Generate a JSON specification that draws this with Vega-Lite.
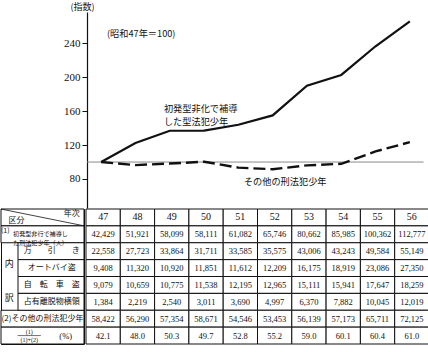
{
  "$schema": "https://vega.github.io/schema/vega-lite/v6.json",
  "padding": {"top": 2, "left": 0, "right": 0, "bottom": 0},
  "background": "white",
  "config": {"view": {"stroke": null}, "font": "Liberation Serif", "axis": {"labelOverlap": false, "labelBound": false, "labelSeparation": -20}, "axisY": {"labelOverlap": false}, "axisQuantitative": {"labelOverlap": false}},
  "datasets": {
    "series": [
      {"year": 47, "s": "初発型非行で補導した刑法犯少年", "v": 100},
      {"year": 48, "s": "初発型非行で補導した刑法犯少年", "v": 122.4},
      {"year": 49, "s": "初発型非行で補導した刑法犯少年", "v": 136.9},
      {"year": 50, "s": "初発型非行で補導した刑法犯少年", "v": 137.0},
      {"year": 51, "s": "初発型非行で補導した刑法犯少年", "v": 144.0},
      {"year": 52, "s": "初発型非行で補導した刑法犯少年", "v": 155.0},
      {"year": 53, "s": "初発型非行で補導した刑法犯少年", "v": 190.1},
      {"year": 54, "s": "初発型非行で補導した刑法犯少年", "v": 202.7},
      {"year": 55, "s": "初発型非行で補導した刑法犯少年", "v": 236.5},
      {"year": 56, "s": "初発型非行で補導した刑法犯少年", "v": 265.8},
      {"year": 47, "s": "その他の刑法犯少年", "v": 100},
      {"year": 48, "s": "その他の刑法犯少年", "v": 96.4},
      {"year": 49, "s": "その他の刑法犯少年", "v": 98.2},
      {"year": 50, "s": "その他の刑法犯少年", "v": 100.4},
      {"year": 51, "s": "その他の刑法犯少年", "v": 93.4},
      {"year": 52, "s": "その他の刑法犯少年", "v": 91.5},
      {"year": 53, "s": "その他の刑法犯少年", "v": 96.1},
      {"year": 54, "s": "その他の刑法犯少年", "v": 97.9},
      {"year": 55, "s": "その他の刑法犯少年", "v": 112.5},
      {"year": 56, "s": "その他の刑法犯少年", "v": 123.5}
    ],
    "table": [
      {"row": "r0", "year": "47", "v": "47"}, {"row": "r0", "year": "48", "v": "48"}, {"row": "r0", "year": "49", "v": "49"}, {"row": "r0", "year": "50", "v": "50"}, {"row": "r0", "year": "51", "v": "51"},
      {"row": "r0", "year": "52", "v": "52"}, {"row": "r0", "year": "53", "v": "53"}, {"row": "r0", "year": "54", "v": "54"}, {"row": "r0", "year": "55", "v": "55"}, {"row": "r0", "year": "56", "v": "56"},
      {"row": "r1", "year": "47", "v": "42,429"}, {"row": "r1", "year": "48", "v": "51,921"}, {"row": "r1", "year": "49", "v": "58,099"}, {"row": "r1", "year": "50", "v": "58,111"}, {"row": "r1", "year": "51", "v": "61,082"},
      {"row": "r1", "year": "52", "v": "65,746"}, {"row": "r1", "year": "53", "v": "80,662"}, {"row": "r1", "year": "54", "v": "85,985"}, {"row": "r1", "year": "55", "v": "100,362"}, {"row": "r1", "year": "56", "v": "112,777"},
      {"row": "r2", "year": "47", "v": "22,558"}, {"row": "r2", "year": "48", "v": "27,723"}, {"row": "r2", "year": "49", "v": "33,864"}, {"row": "r2", "year": "50", "v": "31,711"}, {"row": "r2", "year": "51", "v": "33,585"},
      {"row": "r2", "year": "52", "v": "35,575"}, {"row": "r2", "year": "53", "v": "43,006"}, {"row": "r2", "year": "54", "v": "43,243"}, {"row": "r2", "year": "55", "v": "49,584"}, {"row": "r2", "year": "56", "v": "55,149"},
      {"row": "r3", "year": "47", "v": "9,408"}, {"row": "r3", "year": "48", "v": "11,320"}, {"row": "r3", "year": "49", "v": "10,920"}, {"row": "r3", "year": "50", "v": "11,851"}, {"row": "r3", "year": "51", "v": "11,612"},
      {"row": "r3", "year": "52", "v": "12,209"}, {"row": "r3", "year": "53", "v": "16,175"}, {"row": "r3", "year": "54", "v": "18,919"}, {"row": "r3", "year": "55", "v": "23,086"}, {"row": "r3", "year": "56", "v": "27,350"},
      {"row": "r4", "year": "47", "v": "9,079"}, {"row": "r4", "year": "48", "v": "10,659"}, {"row": "r4", "year": "49", "v": "10,775"}, {"row": "r4", "year": "50", "v": "11,538"}, {"row": "r4", "year": "51", "v": "12,195"},
      {"row": "r4", "year": "52", "v": "12,965"}, {"row": "r4", "year": "53", "v": "15,111"}, {"row": "r4", "year": "54", "v": "15,941"}, {"row": "r4", "year": "55", "v": "17,647"}, {"row": "r4", "year": "56", "v": "18,259"},
      {"row": "r5", "year": "47", "v": "1,384"}, {"row": "r5", "year": "48", "v": "2,219"}, {"row": "r5", "year": "49", "v": "2,540"}, {"row": "r5", "year": "50", "v": "3,011"}, {"row": "r5", "year": "51", "v": "3,690"},
      {"row": "r5", "year": "52", "v": "4,997"}, {"row": "r5", "year": "53", "v": "6,370"}, {"row": "r5", "year": "54", "v": "7,882"}, {"row": "r5", "year": "55", "v": "10,045"}, {"row": "r5", "year": "56", "v": "12,019"},
      {"row": "r6", "year": "47", "v": "58,422"}, {"row": "r6", "year": "48", "v": "56,290"}, {"row": "r6", "year": "49", "v": "57,354"}, {"row": "r6", "year": "50", "v": "58,671"}, {"row": "r6", "year": "51", "v": "54,546"},
      {"row": "r6", "year": "52", "v": "53,453"}, {"row": "r6", "year": "53", "v": "56,139"}, {"row": "r6", "year": "54", "v": "57,173"}, {"row": "r6", "year": "55", "v": "65,711"}, {"row": "r6", "year": "56", "v": "72,125"},
      {"row": "r7", "year": "47", "v": "42.1"}, {"row": "r7", "year": "48", "v": "48.0"}, {"row": "r7", "year": "49", "v": "50.3"}, {"row": "r7", "year": "50", "v": "49.7"}, {"row": "r7", "year": "51", "v": "52.8"},
      {"row": "r7", "year": "52", "v": "55.2"}, {"row": "r7", "year": "53", "v": "59.0"}, {"row": "r7", "year": "54", "v": "60.1"}, {"row": "r7", "year": "55", "v": "60.4"}, {"row": "r7", "year": "56", "v": "61.0"}
    ]
  },
  "spacing": 0,
  "vconcat": [
    {
      "width": 426,
      "height": 196,
      "layer": [
        {
          "data": {"values": [{"from": 46.59, "to": 56.4, "base": 100}]},
          "mark": {"type": "rule", "color": "#8a8a8a", "strokeWidth": 1},
          "encoding": {
            "x": {"field": "from", "type": "quantitative", "scale": {"domain": [44.08, 56.5], "nice": false, "zero": false}, "axis": null},
            "x2": {"field": "to"},
            "y": {"field": "base", "type": "quantitative", "scale": {"domain": [45.8, 276.9], "nice": false, "zero": false},
              "axis": {
                "values": [80, 100, 120, 140, 160, 180, 200, 220, 240, 260],
                "labelOverlap": false, "labelSeparation": -20,
                "offset": -86, "grid": false,
                "title": "(指数)", "titleAngle": 0, "titleX": -5, "titleY": -1,
                "titleAlign": "center", "titleBaseline": "bottom",
                "titleFont": "Noto Sans CJK JP", "titleFontSize": 9, "titleFontWeight": "normal", "titleColor": "#111",
                "labelFont": "Liberation Serif", "labelFontSize": 11, "labelColor": "#111", "labelPadding": 2,
                "tickColor": "#111", "tickSize": 5, "domainColor": "#111", "domainWidth": 1.2
              }
            }
          }
        },
        {
          "data": {"name": "series"},
          "transform": [{"filter": "datum.s === '初発型非行で補導した刑法犯少年'"}],
          "mark": {"type": "line", "color": "#111", "strokeWidth": 2.2},
          "encoding": {
            "x": {"field": "year", "type": "quantitative"},
            "y": {"field": "v", "type": "quantitative", "axis": {"values": [80, 100, 120, 140, 160, 180, 200, 220, 240, 260], "labelOverlap": false, "labelSeparation": -20}}
          }
        },
        {
          "data": {"name": "series"},
          "transform": [{"filter": "datum.s === 'その他の刑法犯少年'"}],
          "mark": {"type": "line", "color": "#111", "strokeWidth": 2.4, "strokeDash": [12, 5]},
          "encoding": {
            "x": {"field": "year", "type": "quantitative"},
            "y": {"field": "v", "type": "quantitative", "axis": {"values": [80, 100, 120, 140, 160, 180, 200, 220, 240, 260], "labelOverlap": false, "labelSeparation": -20}}
          }
        },
        {
          "data": {"values": [
            {"t": "(昭和47年＝100)", "ax": 47.17, "ay": 251},
            {"t": "初発型非化で補導\nした型法犯少年", "ax": 48.83, "ay": 162.5},
            {"t": "その他の刑法犯少年", "ax": 51.16, "ay": 76.4}
          ]},
          "mark": {"type": "text", "lineBreak": "\n", "lineHeight": 13, "font": "Noto Sans CJK JP", "fontSize": 9.2, "align": "left", "baseline": "middle", "color": "#111"},
          "encoding": {
            "x": {"field": "ax", "type": "quantitative"},
            "y": {"field": "ay", "type": "quantitative"},
            "text": {"field": "t", "type": "nominal"}
          }
        }
      ]
    },
    {
      "spacing": 0,
      "hconcat": [
        {
          "width": 83,
          "height": 135,
          "view": {"stroke": "#111", "strokeWidth": 1},
          "layer": [
            {
              "data": {"values": [{"row": "r0"}, {"row": "r1"}, {"row": "r6"}, {"row": "r7"}]},
              "mark": {"type": "rect", "fill": "white", "stroke": "#111", "strokeWidth": 1},
              "encoding": {
                "y": {"field": "row", "type": "nominal", "scale": {"domain": ["r0", "r1", "r2", "r3", "r4", "r5", "r6", "r7"], "paddingInner": 0, "paddingOuter": 0}, "axis": null}
              }
            },
            {
              "data": {"values": [{"row": "r2", "a": 0.205, "b": 1}, {"row": "r3", "a": 0.205, "b": 1}, {"row": "r4", "a": 0.205, "b": 1}, {"row": "r5", "a": 0.205, "b": 1}]},
              "mark": {"type": "rect", "fill": "white", "stroke": "#111", "strokeWidth": 1},
              "encoding": {
                "x": {"field": "a", "type": "quantitative", "scale": {"domain": [0, 1], "nice": false, "zero": false}, "axis": null},
                "x2": {"field": "b"},
                "y": {"field": "row", "type": "nominal"}
              }
            },
            {
              "data": {"values": [{"row": "r0", "a": 0, "b": 1}]},
              "mark": {"type": "rule", "color": "#111", "strokeWidth": 0.8, "yOffset": -8.4, "y2Offset": 8.4},
              "encoding": {
                "x": {"field": "a", "type": "quantitative"},
                "x2": {"field": "b"},
                "y": {"field": "row", "type": "nominal"},
                "y2": {"field": "row"}
              }
            },
            {
              "data": {"values": [{"row": "r0", "t": "区分", "a": 0.09}]},
              "mark": {"type": "text", "font": "Noto Sans CJK JP", "fontSize": 8, "align": "left", "baseline": "middle", "dy": 4, "color": "#111"},
              "encoding": {"x": {"field": "a", "type": "quantitative"}, "y": {"field": "row", "type": "nominal"}, "text": {"field": "t", "type": "nominal"}}
            },
            {
              "data": {"values": [{"row": "r0", "t": "年次", "a": 0.95}]},
              "mark": {"type": "text", "font": "Noto Sans CJK JP", "fontSize": 8, "align": "right", "baseline": "middle", "dy": -3.5, "color": "#111"},
              "encoding": {"x": {"field": "a", "type": "quantitative"}, "y": {"field": "row", "type": "nominal"}, "text": {"field": "t", "type": "nominal"}}
            },
            {
              "data": {"values": [{"row": "r1", "t": "(1)", "a": 0.0}]},
              "mark": {"type": "text", "font": "Noto Sans CJK JP", "fontSize": 7, "align": "left", "baseline": "middle", "dy": -3, "color": "#111"},
              "encoding": {"x": {"field": "a", "type": "quantitative"}, "y": {"field": "row", "type": "nominal"}, "text": {"field": "t", "type": "nominal"}}
            },
            {
              "data": {"values": [{"row": "r1", "t": "初発型非行で補導し\nた刑法犯少年（人）", "a": 0.145}]},
              "mark": {"type": "text", "font": "Noto Sans CJK JP", "fontSize": 6.1, "lineBreak": "\n", "lineHeight": 8.6, "align": "left", "baseline": "middle", "color": "#111"},
              "encoding": {"x": {"field": "a", "type": "quantitative"}, "y": {"field": "row", "type": "nominal"}, "text": {"field": "t", "type": "nominal"}}
            },
            {
              "data": {"values": [
                {"row": "r2", "t": "万　　引　　き", "a": 0.61}, {"row": "r3", "t": "オートバイ盗", "a": 0.61},
                {"row": "r4", "t": "自　転　車　盗", "a": 0.61}, {"row": "r5", "t": "占有離脱物横領", "a": 0.61},
                {"row": "r6", "t": "(2)その他の刑法犯少年", "a": 0.5}
              ]},
              "mark": {"type": "text", "font": "Noto Sans CJK JP", "fontSize": 8, "align": "center", "baseline": "middle", "color": "#111"},
              "encoding": {"x": {"field": "a", "type": "quantitative"}, "y": {"field": "row", "type": "nominal"}, "text": {"field": "t", "type": "nominal"}}
            },
            {
              "data": {"values": [{"row": "r3", "t": "内", "a": 0.1}, {"row": "r5", "t": "訳", "a": 0.1}]},
              "mark": {"type": "text", "font": "Noto Sans CJK JP", "fontSize": 9, "align": "center", "baseline": "middle", "dy": -4, "color": "#111"},
              "encoding": {"x": {"field": "a", "type": "quantitative"}, "y": {"field": "row", "type": "nominal"}, "text": {"field": "t", "type": "nominal"}}
            },
            {
              "data": {"values": [{"row": "r7", "t": "(1)", "a": 0.34}]},
              "mark": {"type": "text", "font": "Liberation Serif", "fontSize": 6, "align": "center", "baseline": "middle", "dy": -3.5, "color": "#111"},
              "encoding": {"x": {"field": "a", "type": "quantitative"}, "y": {"field": "row", "type": "nominal"}, "text": {"field": "t", "type": "nominal"}}
            },
            {
              "data": {"values": [{"row": "r7", "t": "(1)+(2)", "a": 0.34}]},
              "mark": {"type": "text", "font": "Liberation Serif", "fontSize": 6, "align": "center", "baseline": "middle", "dy": 4, "color": "#111"},
              "encoding": {"x": {"field": "a", "type": "quantitative"}, "y": {"field": "row", "type": "nominal"}, "text": {"field": "t", "type": "nominal"}}
            },
            {
              "data": {"values": [{"row": "r7", "a": 0.2, "b": 0.48}]},
              "mark": {"type": "rule", "color": "#111", "strokeWidth": 0.6},
              "encoding": {"x": {"field": "a", "type": "quantitative"}, "x2": {"field": "b"}, "y": {"field": "row", "type": "nominal"}}
            },
            {
              "data": {"values": [{"row": "r7", "t": "(%)", "a": 0.78}]},
              "mark": {"type": "text", "font": "Liberation Serif", "fontSize": 8.5, "align": "center", "baseline": "middle", "color": "#111"},
              "encoding": {"x": {"field": "a", "type": "quantitative"}, "y": {"field": "row", "type": "nominal"}, "text": {"field": "t", "type": "nominal"}}
            }
          ]
        },
        {
          "width": 343,
          "height": 135,
          "data": {"name": "table"},
          "encoding": {
            "x": {"field": "year", "type": "ordinal", "scale": {"paddingInner": 0, "paddingOuter": 0}, "axis": null},
            "y": {"field": "row", "type": "nominal", "scale": {"domain": ["r0", "r1", "r2", "r3", "r4", "r5", "r6", "r7"], "paddingInner": 0, "paddingOuter": 0}, "axis": null}
          },
          "layer": [
            {"mark": {"type": "rect", "fill": "white", "stroke": "#111", "strokeWidth": 1}},
            {
              "transform": [{"filter": "datum.row === 'r0'"}],
              "mark": {"type": "text", "font": "Liberation Serif", "fontSize": 10, "color": "#111"},
              "encoding": {"text": {"field": "v", "type": "nominal"}}
            },
            {
              "transform": [{"filter": "datum.row !== 'r0'"}],
              "mark": {"type": "text", "font": "Liberation Serif", "fontSize": 8.5, "color": "#111"},
              "encoding": {"text": {"field": "v", "type": "nominal"}}
            }
          ]
        }
      ]
    }
  ]
}
